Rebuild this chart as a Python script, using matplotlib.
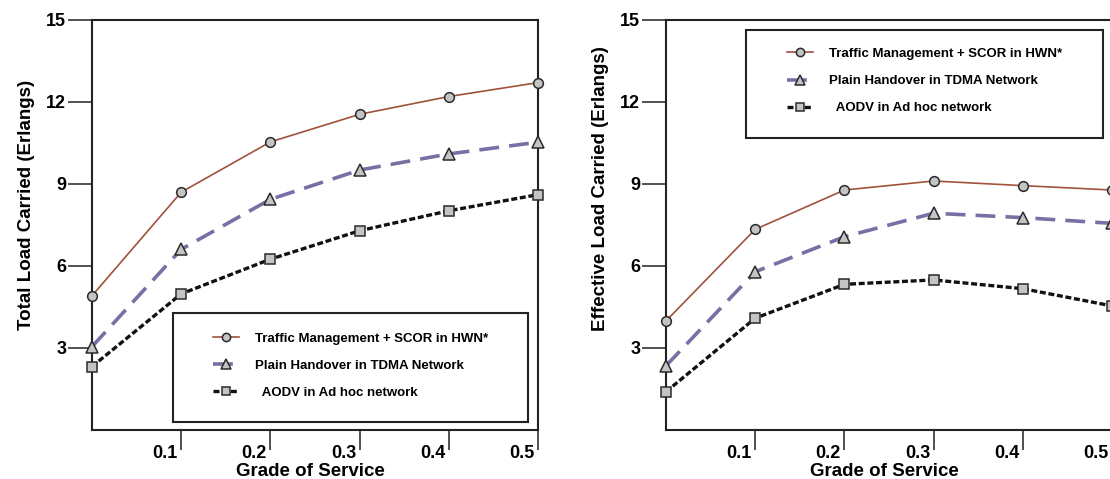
import matplotlib
matplotlib.use("Agg")
import matplotlib.pyplot as plt
from matplotlib.patches import Rectangle
from matplotlib.transforms import ScaledTranslation

plt.rcParams['font.family'] = ['Liberation Sans', 'DejaVu Sans']
plt.rcParams['font.weight'] = 'bold'

# grade of service (x) values
gos = [0.0, 0.1, 0.2, 0.3, 0.4, 0.5]

# total load carried (left panel)
total_scor = [4.91, 8.70, 10.54, 11.55, 12.20, 12.71]
total_tdma = [3.05, 6.61, 8.44, 9.51, 10.10, 10.53]
total_aodv = [2.32, 4.98, 6.25, 7.29, 8.02, 8.61]

# effective load carried (right panel)
eff_scor = [3.99, 7.34, 8.78, 9.11, 8.94, 8.78]
eff_tdma = [2.35, 5.79, 7.07, 7.93, 7.77, 7.56]
eff_aodv = [1.40, 4.09, 5.33, 5.49, 5.17, 4.54]

labels = ["Traffic Management + SCOR in HWN*",
          "Plain Handover in TDMA Network",
          "  AODV in Ad hoc network"]
xticks = [0.1, 0.2, 0.3, 0.4, 0.5]
yticks = [3, 6, 9, 12, 15]

fig = plt.figure(figsize=(11.1, 4.79), dpi=100)
ax1 = fig.add_axes([92/1110, 49/479, 446/1110, 410/479])
ax2 = fig.add_axes([666/1110, 49/479, 446/1110, 410/479])

marker_face = '#c4c4c4'
marker_edge = '#2a2a2a'
spine_col = '#222222'


def draw_panel(ax, ys, ylabel, ylab_y, box, leg_anchor):
    y1, y2, y3 = ys
    ax.plot(gos, y1, color='#a0523c', lw=1.2, marker='o', ms=7,
            mfc=marker_face, mec=marker_edge, mew=1.1, label=labels[0],
            zorder=3, clip_on=False)
    ax.plot(gos, y2, color='#7670a4', lw=2.6, ls=(0, (5.5, 2.8)), marker='^', ms=9,
            mfc=marker_face, mec=marker_edge, mew=1.1, label=labels[1],
            zorder=3, clip_on=False)
    ax.plot(gos, y3, color='#111111', lw=2.4, ls=(0, (1.8, 0.8)), marker='s', ms=7,
            mfc=marker_face, mec=marker_edge, mew=1.1, label=labels[2],
            zorder=3, clip_on=False)
    ax.set_xlim(0, 0.5)
    ax.set_ylim(0, 15)
    ax.set_xticks(xticks)
    ax.set_xticklabels([f"{v:.1f}" for v in xticks])
    ax.set_yticks(yticks)
    for s in ax.spines.values():
        s.set_linewidth(1.5)
        s.set_color(spine_col)
    ax.tick_params(axis='y', direction='out', length=17, width=1.1, pad=1.5,
                   labelsize=13, color=spine_col)
    ax.tick_params(axis='x', direction='out', length=14.5, width=1.1, pad=-4,
                   labelsize=13, color=spine_col)
    for lab in ax.get_xticklabels():
        lab.set_horizontalalignment('right')
        lab.set_transform(lab.get_transform() +
                          ScaledTranslation(-2.5/72, 0, fig.dpi_scale_trans))
    ax.set_xlabel("Grade of Service", fontsize=13.5, fontweight='bold')
    ax.xaxis.set_label_coords(0.49, -0.081)
    ax.set_ylabel(ylabel, fontsize=13.5, fontweight='bold')
    ax.yaxis.set_label_coords(-0.128, ylab_y)
    x0, y0, x1, yb = box
    ax.add_patch(Rectangle((x0, yb), x1 - x0, y0 - yb, transform=ax.transAxes,
                           fill=False, ec=spine_col, lw=1.5, zorder=4))
    leg = ax.legend(loc='upper left', bbox_to_anchor=leg_anchor, frameon=False,
                    fontsize=9.5, handlelength=2.0, handletextpad=1.2,
                    labelspacing=1.12, borderpad=0, borderaxespad=0,
                    markerscale=0.85)
    leg.set_zorder(5)


draw_panel(ax1, (total_scor, total_tdma, total_aodv),
           "Total Load Carried (Erlangs)", 0.55,
           (0.182, 0.285, 0.978, 0.0195), (0.271, 0.238))
draw_panel(ax2, (eff_scor, eff_tdma, eff_aodv),
           "Effective Load Carried (Erlangs)", 0.59,
           (0.179, 0.976, 0.980, 0.712), (0.271, 0.932))

fig.savefig("out.png", dpi=100)
